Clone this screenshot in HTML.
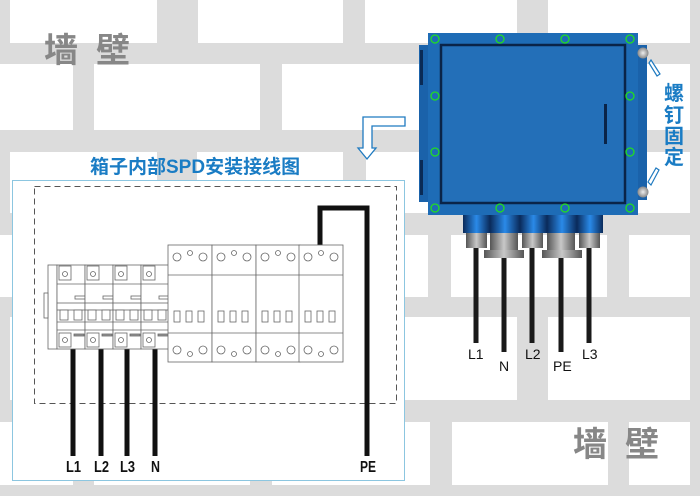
<!DOCTYPE html>
<html><head><meta charset="utf-8"><style>
html,body{margin:0;padding:0;width:700px;height:496px;overflow:hidden;background:#dcdcdc}
svg{display:block}
</style></head><body>
<svg width="700" height="496" viewBox="0 0 700 496" xmlns="http://www.w3.org/2000/svg" font-family="'Liberation Sans','Noto Sans CJK SC',sans-serif">
<defs>
<linearGradient id="cyl" x1="0" x2="1" y1="0" y2="0">
<stop offset="0" stop-color="#0a2a5a"/><stop offset="0.5" stop-color="#2a8ae8"/><stop offset="1" stop-color="#0a2a5a"/>
</linearGradient>
<linearGradient id="nut" x1="0" x2="1" y1="0" y2="0">
<stop offset="0" stop-color="#555"/><stop offset="0.5" stop-color="#c8c8c8"/><stop offset="1" stop-color="#555"/>
</linearGradient>
<radialGradient id="scr"><stop offset="0" stop-color="#eee"/><stop offset="1" stop-color="#888"/></radialGradient>
</defs>
<rect width="700" height="496" fill="#dcdcdc"/>
<g fill="#fff">
<rect x="10" y="0" width="147" height="43"/><rect x="198" y="0" width="145" height="43"/><rect x="365" y="0" width="152" height="43"/><rect x="548" y="0" width="142" height="43"/>
<rect x="0" y="64" width="73" height="66"/><rect x="94" y="64" width="166" height="66"/><rect x="282" y="64" width="148" height="66"/><rect x="451" y="64" width="156" height="66"/><rect x="630" y="64" width="60" height="66"/>
<rect x="10" y="152" width="147" height="61"/><rect x="197" y="152" width="146" height="61"/><rect x="366" y="152" width="151" height="61"/><rect x="548" y="152" width="142" height="61"/>
<rect x="0" y="235" width="73" height="62"/><rect x="94" y="235" width="156" height="62"/><rect x="272" y="235" width="156" height="62"/><rect x="451" y="235" width="156" height="62"/><rect x="629" y="235" width="61" height="62"/>
<rect x="10" y="317" width="147" height="83"/><rect x="197" y="317" width="146" height="83"/><rect x="366" y="317" width="151" height="83"/><rect x="548" y="317" width="142" height="83"/>
<rect x="0" y="422" width="73" height="63"/><rect x="94" y="422" width="156" height="63"/><rect x="272" y="422" width="158" height="63"/><rect x="452" y="422" width="156" height="63"/><rect x="629" y="422" width="61" height="63"/>
</g>
<g fill="#878787" font-weight="bold" font-size="34">
<text x="44" y="62">墙</text><text x="96" y="62">壁</text>
<text x="573" y="456">墙</text><text x="625" y="456">壁</text>
</g>
<path d="M405,117 L373,117 L363,117 L363,148 L358,148 L367,159 L376,148 L372,148 L372,126 L405,126 Z" fill="#fff" stroke="#1f7ac0" stroke-width="1.3"/>
<text x="90" y="173" fill="#1a7cc4" font-weight="bold" font-size="19">箱子内部SPD安装接线图</text>
<rect x="12.5" y="180.5" width="392" height="300" fill="#fff" stroke="#8cc6e0" stroke-width="1"/>
<rect x="34.5" y="186.5" width="362" height="217" fill="none" stroke="#555" stroke-width="1" stroke-dasharray="6,4"/>
<g stroke="#111" stroke-width="5" fill="none">
<line x1="73" y1="349" x2="73" y2="456"/><line x1="101" y1="349" x2="101" y2="456"/><line x1="127" y1="349" x2="127" y2="456"/><line x1="155" y1="349" x2="155" y2="456"/>
<path d="M320,246 L320,208 L367,208 L367,456"/>
</g>
<g font-weight="bold" font-size="16" fill="#111">
<text x="66" y="472" textLength="15" lengthAdjust="spacingAndGlyphs">L1</text>
<text x="94" y="472" textLength="15" lengthAdjust="spacingAndGlyphs">L2</text>
<text x="120" y="472" textLength="15" lengthAdjust="spacingAndGlyphs">L3</text>
<text x="151" y="472" textLength="9" lengthAdjust="spacingAndGlyphs">N</text>
<text x="360" y="472" textLength="16" lengthAdjust="spacingAndGlyphs">PE</text>
</g>
<g stroke="#666" stroke-width="0.8" fill="#fff">
<rect x="48" y="265" width="9" height="84"/>
<rect x="44" y="293" width="4" height="25"/>
<g id="bk">
<rect x="57" y="265" width="28" height="84"/>
<rect x="59" y="266" width="12" height="14"/><circle cx="65" cy="274" r="2.5"/>
<line x1="57" y1="284" x2="85" y2="284"/>
<rect x="75" y="296" width="10" height="3"/>
<rect x="57" y="303" width="28" height="7"/>
<rect x="60" y="310" width="8" height="10"/><rect x="74" y="310" width="8" height="10"/>
<line x1="57" y1="322" x2="85" y2="322"/><line x1="57" y1="330" x2="85" y2="330"/>
<rect x="59" y="333" width="12" height="14"/><circle cx="65" cy="340" r="2.5"/>
<rect x="74" y="334" width="10" height="2" fill="#999"/>
</g>
<use href="#bk" x="28"/><use href="#bk" x="56"/><use href="#bk" x="84"/>
</g>
<g stroke="#666" stroke-width="0.8" fill="#fff">
<g id="spd">
<rect x="168" y="245" width="44" height="117"/>
<line x1="168" y1="275" x2="212" y2="275"/><line x1="168" y1="333" x2="212" y2="333"/>
<circle cx="177" cy="257" r="4"/><circle cx="190" cy="253" r="2.5"/><circle cx="203" cy="257" r="4"/>
<rect x="174" y="311" width="6" height="11"/><rect x="186" y="311" width="6" height="11"/><rect x="198" y="311" width="6" height="11"/>
<circle cx="177" cy="350" r="4"/><circle cx="190" cy="354" r="2.5"/><circle cx="203" cy="350" r="4"/>
</g>
<use href="#spd" x="44"/><use href="#spd" x="88"/><use href="#spd" x="131"/>
</g>
<rect x="419" y="45" width="12" height="157" fill="#1a62aa"/>
<rect x="420" y="50" width="3" height="35" fill="#0a2a55"/><rect x="420" y="160" width="3" height="35" fill="#0a2a55"/>
<rect x="634" y="45" width="13" height="155" fill="#1a62aa"/>
<rect x="428" y="33" width="210" height="182" fill="#1e6cb6"/>
<rect x="441" y="45" width="184" height="158" fill="#236fb8" stroke="#0a2448" stroke-width="2.5"/>
<rect x="604" y="104" width="3" height="40" fill="#0a2448"/>
<g fill="none" stroke="#22dd22" stroke-width="1.3">
<circle cx="435" cy="39" r="4"/><circle cx="500" cy="39" r="4"/><circle cx="565" cy="39" r="4"/><circle cx="630" cy="39" r="4"/>
<circle cx="435" cy="96" r="4"/><circle cx="630" cy="96" r="4"/>
<circle cx="435" cy="152" r="4"/><circle cx="630" cy="152" r="4"/>
<circle cx="435" cy="208" r="4"/><circle cx="500" cy="208" r="4"/><circle cx="565" cy="208" r="4"/><circle cx="630" cy="208" r="4"/>
</g>
<circle cx="643" cy="53" r="5.5" fill="url(#scr)"/><circle cx="643" cy="192" r="5.5" fill="url(#scr)"/>
<g stroke="#1f7ac0" stroke-width="1.2" fill="#fff">
<path d="M651,60 L660,74 L657,76 L649,63 Z"/><path d="M651,185 L659,170 L656,168 L648,182 Z"/>
</g>
<g fill="#1a7cc4" font-weight="bold" font-size="20">
<text x="664" y="100">螺</text><text x="664" y="122">钉</text><text x="664" y="143">固</text><text x="664" y="164">定</text>
</g>
<rect x="463" y="215" width="27" height="18" fill="url(#cyl)"/><rect x="490" y="215" width="30" height="18" fill="url(#cyl)"/><rect x="520" y="215" width="27" height="18" fill="url(#cyl)"/><rect x="547" y="215" width="30" height="18" fill="url(#cyl)"/><rect x="577" y="215" width="26" height="18" fill="url(#cyl)"/>
<rect x="466" y="233" width="21" height="15" fill="url(#nut)"/><rect x="522" y="233" width="21" height="15" fill="url(#nut)"/><rect x="579" y="233" width="21" height="15" fill="url(#nut)"/>
<rect x="490" y="233" width="28" height="18" fill="url(#nut)"/><rect x="484" y="250" width="40" height="8" fill="url(#nut)"/>
<rect x="547" y="233" width="28" height="18" fill="url(#nut)"/><rect x="542" y="250" width="40" height="8" fill="url(#nut)"/>
<g stroke="#1a1a1a" stroke-width="5">
<line x1="476" y1="248" x2="476" y2="343"/><line x1="504" y1="258" x2="504" y2="352"/><line x1="532" y1="248" x2="532" y2="343"/><line x1="561" y1="258" x2="561" y2="352"/><line x1="589" y1="248" x2="589" y2="343"/>
</g>
<g font-size="14" fill="#111">
<text x="468" y="359">L1</text><text x="499" y="371">N</text><text x="525" y="359">L2</text><text x="553" y="371">PE</text><text x="582" y="359">L3</text>
</g>
</svg>
</body></html>
